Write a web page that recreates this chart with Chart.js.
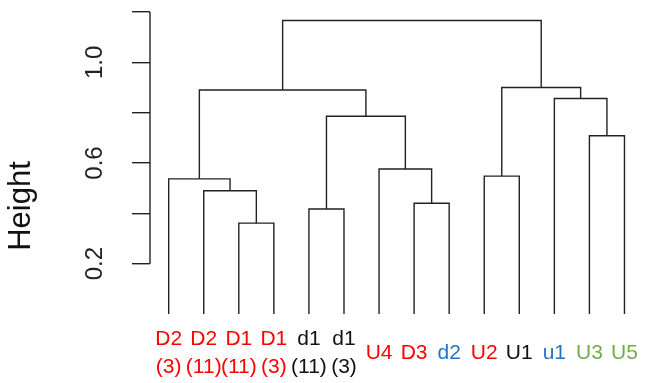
<!DOCTYPE html>
<html>
<head>
<meta charset="utf-8">
<script src="https://cdn.jsdelivr.net/npm/chart.js@4.4.1/dist/chart.umd.min.js"></script>
<style>
  html, body { margin: 0; padding: 0; background: #fff; }
  #wrap { width: 646px; height: 383px; }
</style>
</head>
<body>
<div id="wrap"><canvas id="dendroChart"></canvas></div>
<script>
// leaves, in the order they are drawn
const leafLabels = [["D2", "(3)"], ["D2", "(11)"], ["D1", "(11)"], ["D1", "(3)"], ["d1", "(11)"], ["d1", "(3)"],
                    "U4", "D3", "d2", "U2", "U1", "u1", "U3", "U5"];
const leafColors = ["#ff0000", "#ff0000", "#ff0000", "#ff0000", "#111111", "#111111",
                    "#ff0000", "#ff0000", "#1f74c8", "#ff0000", "#111111", "#1f74c8", "#72ad4c", "#72ad4c"];

// merges (hclust style): negative = leaf number, positive = earlier merge row
const mergeLeft   = [-3, -5, -8, -2, -1, -10, -7, -13, 2, -12, 5, 6, 11];
const mergeRight  = [-4, -6, -9,  1,  4, -11,  3, -14, 7,   8, 9, 10, 12];
const mergeHeight = [0.361, 0.417, 0.440, 0.490, 0.537, 0.548, 0.576, 0.708, 0.786, 0.856, 0.890, 0.900, 1.166];

const yTicks = [0.2, 0.4, 0.6, 0.8, 1.0, 1.2];
const yTickLabels = ["0.2", "", "0.6", "", "1.0", ""];

let nodeX = [], nodeH = [];

function childPos(c) {
    if (c < 0) return [-c, 0];
    return [nodeX[c - 1], nodeH[c - 1]];
}

let datasets = mergeLeft.map(function (a, i) {
    let [xa, ha] = childPos(a);
    let [xb, hb] = childPos(mergeRight[i]);
    let h = mergeHeight[i];
    nodeX[i] = (xa + xb) / 2;
    nodeH[i] = h;
    return {
        data: [{ x: xa, y: ha }, { x: xa, y: h }, { x: xb, y: h }, { x: xb, y: hb }],
        borderColor: '#222',
        borderWidth: 1.4,
        pointRadius: 0,
        fill: false,
        tension: 0
    };
});

// R style axis line: only from first to last tick
const axisLine = {
    id: 'axisLine',
    afterDraw(chart) {
        let s = chart.scales.y;
        let ctx = chart.ctx;
        ctx.save();
        ctx.strokeStyle = '#222';
        ctx.lineWidth = 1.4;
        ctx.beginPath();
        ctx.moveTo(s.right, s.getPixelForValue(yTicks[0]));
        ctx.lineTo(s.right, s.getPixelForValue(yTicks[yTicks.length - 1]));
        ctx.stroke();
        ctx.restore();
    }
};

new Chart(document.getElementById('dendroChart').getContext('2d'), {
    type: 'line',
    data: { datasets: datasets },
    options: {
        responsive: true,
        maintainAspectRatio: false,
        animation: false,
        layout: { padding: { top: 12, right: 4, bottom: 1, left: 0 } },
        plugins: {
            legend: { display: false },
            tooltip: { enabled: false }
        },
        scales: {
            x: {
                type: 'linear',
                position: 'bottom',
                min: 0.467,
                max: 14.5,
                afterBuildTicks: function (scale) {
                    scale.ticks = leafLabels.map((l, i) => ({ value: i + 1 }));
                },
                afterFit: function (scale) {
                    scale.height = 68;
                    scale.paddingLeft = 0;
                    scale.paddingRight = 0;
                },
                grid: { display: false, drawTicks: false },
                border: { display: false },
                ticks: {
                    autoSkip: false,
                    maxRotation: 0,
                    minRotation: 0,
                    crossAlign: 'center',
                    padding: 25,
                    font: { family: "'Liberation Sans', Arial, sans-serif", size: 21, lineHeight: 1.33 },
                    color: (ctx) => leafColors[ctx.index],
                    callback: (v, i) => leafLabels[i]
                }
            },
            y: {
                type: 'linear',
                position: 'left',
                min: 0,
                max: 1.2,
                afterBuildTicks: function (scale) {
                    scale.ticks = yTicks.map(v => ({ value: v }));
                },
                afterFit: function (scale) {
                    scale.width = 150;
                    scale.paddingTop = 0;
                    scale.paddingBottom = 0;
                },
                grid: { drawOnChartArea: false, drawTicks: true, tickLength: 18, color: '#222', lineWidth: 1.4 },
                border: { display: false },
                ticks: {
                    minRotation: 90,
                    maxRotation: 90,
                    crossAlign: 'center',
                    padding: 20,
                    color: '#222',
                    font: { family: "'Liberation Sans', Arial, sans-serif", size: 24 },
                    callback: (v, i) => yTickLabels[i]
                },
                title: {
                    display: true,
                    text: 'Height' + '\u00a0'.repeat(10),
                    color: '#111',
                    font: { family: "'Liberation Sans', Arial, sans-serif", size: 31, lineHeight: 1 },
                    padding: { top: 6, bottom: 0 }
                }
            }
        }
    },
    plugins: [axisLine]
});
</script>
</body>
</html>
